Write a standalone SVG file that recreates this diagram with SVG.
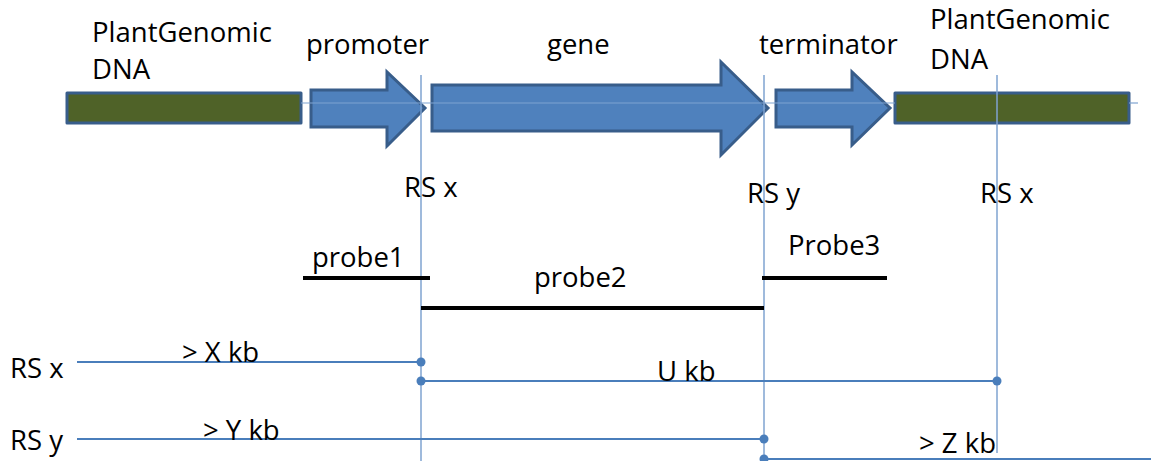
<svg xmlns="http://www.w3.org/2000/svg" width="1151" height="461" viewBox="0 0 1151 461">
<style>
text{font-family:"Open Sans","Liberation Sans",sans-serif;font-size:24px;fill:#000}
.big{font-size:27.5px}
.dna{fill:#4F6228;stroke:#385D8A;stroke-width:3;stroke-linejoin:round}
.arr{fill:#4F81BD;stroke:#385D8A;stroke-width:3;stroke-linejoin:miter}
.axis{stroke:#7FA3D1;stroke-width:1.2;fill:none}
.vl{stroke:#7FA3D1;stroke-width:1.5;fill:none}
.hl{stroke:#4A7EBB;stroke-width:2;fill:none}
.probe{stroke:#000;stroke-width:4;fill:none}
.dot{fill:#4A7EBB}
</style>
<rect width="1151" height="461" fill="#fff"/>
<g id="dna-left">
<rect class="dna" x="67" y="93" width="234" height="30"/>
<text class="big" x="92" y="42">PlantGenomic</text>
<text class="big" x="92" y="79">DNA</text>
</g>
<g id="promoter">
<polygon class="arr" points="311,90 387,90 387,72 425,108 387,146 387,127 311,127"/>
<text class="big" x="306" y="54">promoter</text>
</g>
<g id="gene">
<polygon class="arr" points="432,85 721,85 721,62 768,108 721,155 721,131 432,131"/>
<text class="big" x="547" y="54">gene</text>
</g>
<g id="terminator">
<polygon class="arr" points="776,90 852,90 852,72 890,108 852,145 852,127 776,127"/>
<text class="big" x="759" y="54">terminator</text>
</g>
<g id="dna-right">
<rect class="dna" x="895" y="93" width="234" height="30"/>
<text class="big" x="930" y="29">PlantGenomic</text>
<text class="big" x="930" y="69">DNA</text>
</g>
<g id="connectors">
<line class="axis" x1="301" y1="103" x2="895" y2="103"/>
<line class="axis" x1="1129" y1="103" x2="1138" y2="103"/>
<line class="vl" x1="421" y1="75" x2="421" y2="461"/>
<line class="vl" x1="764" y1="75" x2="764" y2="461"/>
<line class="vl" x1="997" y1="75" x2="997" y2="453"/>
<line class="probe" x1="303" y1="278" x2="430" y2="278"/>
<line class="probe" x1="421" y1="308" x2="764" y2="308"/>
<line class="probe" x1="762" y1="278" x2="887" y2="278"/>
<line class="hl" x1="77" y1="362" x2="421" y2="362"/>
<line class="hl" x1="421" y1="381" x2="997" y2="381"/>
<line class="hl" x1="77" y1="439" x2="764" y2="439"/>
<line class="hl" x1="764" y1="459" x2="1151" y2="459"/>
<circle class="dot" cx="421" cy="362" r="4.5"/>
<circle class="dot" cx="421" cy="381" r="4.5"/>
<circle class="dot" cx="997" cy="381" r="4.5"/>
<circle class="dot" cx="764" cy="439" r="4.5"/>
<circle class="dot" cx="764" cy="459" r="4.5"/>
</g>
<g id="labels">
<text class="big" x="404" y="197">RS x</text>
<text class="big" x="747" y="203">RS y</text>
<text class="big" x="980" y="203">RS x</text>
<text class="big" x="312" y="267">probe1</text>
<text class="big" x="534" y="287">probe2</text>
<text class="big" x="788" y="255">Probe3</text>
<text class="big" x="10" y="378">RS x</text>
<text class="big" x="10" y="450">RS y</text>
<text class="big" x="182" y="362">&gt; X kb</text>
<text class="big" x="657" y="381">U kb</text>
<text class="big" x="203" y="440">&gt; Y kb</text>
<text class="big" x="919" y="453">&gt; Z kb</text>
</g>
</svg>
